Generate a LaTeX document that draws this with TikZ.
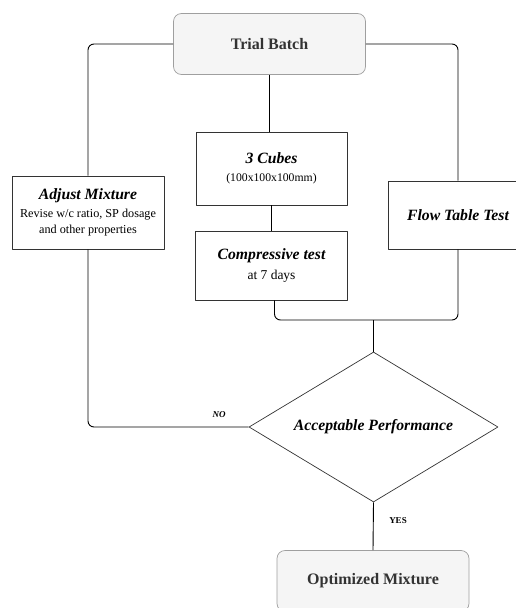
\documentclass[tikz,border=0pt]{standalone}
\usepackage{fontspec}
\setmainfont{Liberation Serif}
\usepackage{xcolor}
\usetikzlibrary{shapes.geometric}

\definecolor{termfill}{HTML}{F5F5F5}
\definecolor{termtext}{HTML}{333333}

\begin{document}
\begin{tikzpicture}[x=1pt,y=-1pt,line join=round,
  term/.style={draw=gray!75,fill=termfill,rounded corners=8pt,line width=0.7pt,
    font=\fontsize{16}{18}\selectfont\bfseries,text=termtext,
    minimum width=192pt,minimum height=61pt,inner sep=0pt},
  stepbox/.style={draw=black!80,fill=white,line width=0.7pt,align=center,inner sep=0pt},
  head/.style={font=\fontsize{15.7}{18}\selectfont\bfseries\itshape},
  decision/.style={diamond,draw=black!80,line width=0.7pt,aspect=1.66,inner sep=1pt,
    minimum width=249pt,minimum height=150pt,font=\fontsize{15.7}{18}\selectfont\bfseries\itshape},
  link/.style={line width=0.9pt,rounded corners=6pt},
  tag/.style={font=\fontsize{9}{11}\selectfont\bfseries}]
  \useasboundingbox (0,0) rectangle (515,608);
  % boxes
  \node[term] (trial) at (269.5,44) {Trial Batch};
  \node[stepbox,minimum width=151pt,minimum height=73pt] (cubes) at (271.5,168.5)
    {{\fontsize{15.7}{18}\selectfont\bfseries\itshape 3 Cubes}\\[6pt]{\fontsize{11.7}{14}\selectfont (100x100x100mm)}};
  \node[stepbox,minimum width=152pt,minimum height=69pt] (comp) at (271.5,265.5)
    {{\fontsize{15.7}{18}\selectfont\bfseries\itshape Compressive test}\\[6pt]{\fontsize{13.5}{16}\selectfont at 7 days}};
  \node[stepbox,minimum width=152pt,minimum height=73pt] (adjust) at (88,212.5)
    {{\fontsize{15.7}{18}\selectfont\bfseries\itshape Adjust Mixture}\\[6pt]{\fontsize{12.2}{14}\selectfont Revise w/c ratio, SP dosage}\\[4pt]{\fontsize{12.2}{14}\selectfont and other properties}};
  \node[stepbox,head,minimum width=140pt,minimum height=68pt] (flow) at (458,215) {Flow Table Test};
  \node[decision] (perf) at (373.5,427) {Acceptable Performance};
  \node[term] (opt) at (373,581) {Optimized Mixture};
  \coordinate (merge) at (373.5,320);
  % connectors
  \draw[link] (trial.west) -| (adjust.north);
  \draw[link] (trial.east) -| (flow.north);
  \draw[link] (trial.south) -- (trial.south |- cubes.north);
  \draw[link] (cubes.south) -- (comp.north);
  \draw[link] ([xshift=3pt]comp.south) |- (merge) -| (flow.south);
  \draw[link] (merge) -- (perf.north);
  \draw[link] (perf.west) -| (adjust.south);
  \draw[link] (perf.south) -- (opt.north);
  % labels
  \node[tag,font=\fontsize{9}{11}\selectfont\bfseries\itshape] (no) at (219,415) {NO};
  \node[tag] (yes) at (398,521) {YES};
\end{tikzpicture}
\end{document}
